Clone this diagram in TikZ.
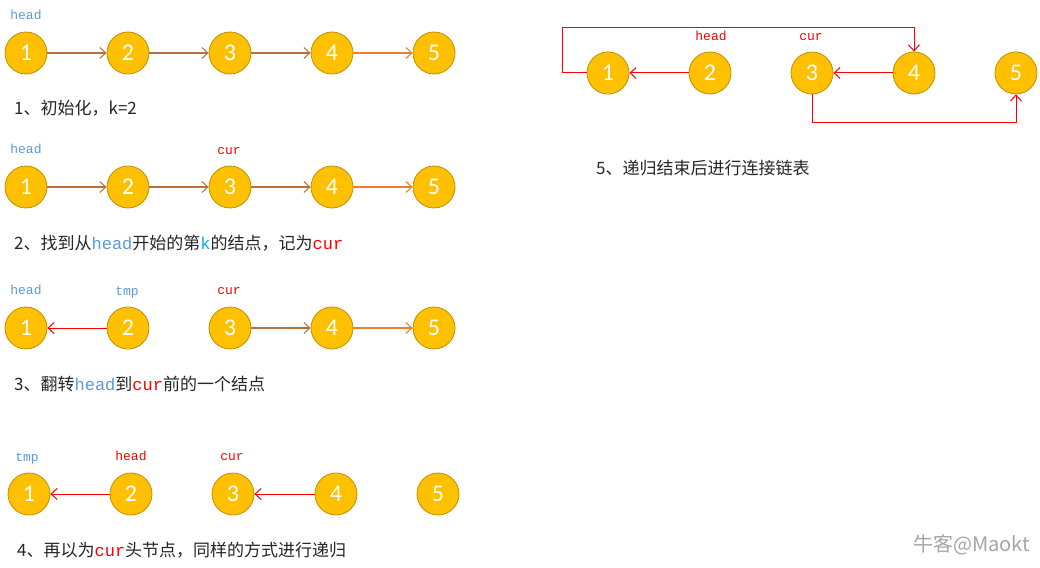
\documentclass[tikz,border=0pt]{standalone}
\usepackage{fontspec}
\setmainfont{Liberation Serif}
\newfontfamily\cjk{Noto Sans CJK SC}
\newfontfamily\monof{Liberation Mono}
\newfontfamily\numf{Carlito}
\usetikzlibrary{arrows.meta}
\definecolor{nodefill}{HTML}{FFC000}
\definecolor{nodeedge}{HTML}{BF9000}
\definecolor{brownarr}{HTML}{B8703E}
\definecolor{orangearr}{HTML}{ED7D31}
\definecolor{codeblue}{HTML}{5B9BD5}
\definecolor{codecyan}{HTML}{00B0F0}
\definecolor{codered}{HTML}{FF0000}
\tikzset{
  lnode/.style={circle,minimum size=42pt,inner sep=0pt,fill=nodefill,draw=nodeedge,line width=0.8pt,text=white,font=\numf\fontsize{24}{24}\selectfont},
  codelbl/.style={inner sep=0pt,font=\monof\fontsize{13}{13}\selectfont},
  caption/.style={anchor=west,inner sep=0pt,font=\cjk\fontsize{17}{17}\selectfont,text=black!85},
  barb/.style={-{Straight Barb[length=6pt,width=11pt,line width=1pt]}},
  brownlink/.style={barb,draw=brownarr,line width=1.1pt},
  orangelink/.style={barb,draw=orangearr,line width=1.6pt},
  redlink/.style={barb,draw=codered,line width=1pt},
}
\newcommand{\cb}[1]{{\monof\textcolor{codeblue}{#1}}}
\newcommand{\cc}[1]{{\monof\textcolor{codecyan}{#1}}}
\newcommand{\cred}[1]{{\monof\textcolor{codered}{#1}}}
\begin{document}
\begin{tikzpicture}[x=1pt,y=-1pt]
\useasboundingbox[fill=white] (0,0) rectangle (1040,567);
% Row 1
\foreach \i/\x in {1/26,2/128,3/230,4/332,5/434} \node[lnode] (a\i) at (\x,53) {\i};
\draw[brownlink] (a1) -- (a2);
\draw[brownlink] (a2) -- (a3);
\draw[brownlink] (a3) -- (a4);
\draw[orangelink] (a4) -- (a5);
\node[codelbl,text=codeblue] (ah) at (26,15) {head};
\node[caption] (ac) at (14,108) {1、初始化，k=2};
% Row 2
\foreach \i/\x in {1/26,2/128,3/230,4/332,5/434} \node[lnode] (b\i) at (\x,187) {\i};
\draw[brownlink] (b1) -- (b2);
\draw[brownlink] (b2) -- (b3);
\draw[brownlink] (b3) -- (b4);
\draw[orangelink] (b4) -- (b5);
\node[codelbl,text=codeblue] (bh) at (26,149) {head};
\node[codelbl,text=codered] (bcur) at (229,151) {cur};
\node[caption] (bc) at (14,243) {2、找到从\cb{head}开始的第\cc{k}的结点，记为\cred{cur}};
% Row 3
\foreach \i/\x in {1/26,2/128,3/230,4/332,5/434} \node[lnode] (c\i) at (\x,328) {\i};
\draw[redlink] (c2) -- (c1);
\draw[brownlink] (c3) -- (c4);
\draw[orangelink] (c4) -- (c5);
\node[codelbl,text=codeblue] (ch) at (26,290) {head};
\node[codelbl,text=codeblue] (ct) at (127,293) {tmp};
\node[codelbl,text=codered] (ccur) at (229,291) {cur};
\node[caption] (cc) at (14,384) {3、翻转\cb{head}到\cred{cur}前的一个结点};
% Row 4
\foreach \i/\x in {1/29,2/131,3/233,4/336,5/438} \node[lnode] (d\i) at (\x,494) {\i};
\draw[redlink] (d2) -- (d1);
\draw[redlink] (d4) -- (d3);
\node[codelbl,text=codeblue] (dt) at (27,459) {tmp};
\node[codelbl,text=codered] (dh) at (131,456) {head};
\node[codelbl,text=codered] (dcur) at (232,457) {cur};
\node[caption] (dc) at (17,550) {4、再以为\cred{cur}头节点，同样的方式进行递归};
% Row 5 (right)
\foreach \i/\x in {1/608,2/710,3/812,4/914,5/1016} \node[lnode] (e\i) at (\x,73) {\i};
\draw[redlink] (e2) -- (e1);
\draw[redlink] (e4) -- (e3);
\coordinate (eL) at (562,73);
\coordinate (eT) at (562,28);
\draw[redlink] (e1.west) -- (eL) -- (eT) -| (e4.north);
\coordinate (eB) at (812,122);
\draw[redlink] (e3.south) -- (eB) -| (e5.south);
\node[codelbl,text=codered] (eh) at (711,36) {head};
\node[codelbl,text=codered] (ecur) at (811,37) {cur};
\node[caption] (ec) at (596,168) {5、递归结束后进行连接链表};
% watermark
\node[anchor=east,inner sep=0pt,text=black!35,font=\cjk\fontsize{20}{20}\selectfont] (wm) at (1030,545) {牛客@Maokt};
\end{tikzpicture}
\end{document}
